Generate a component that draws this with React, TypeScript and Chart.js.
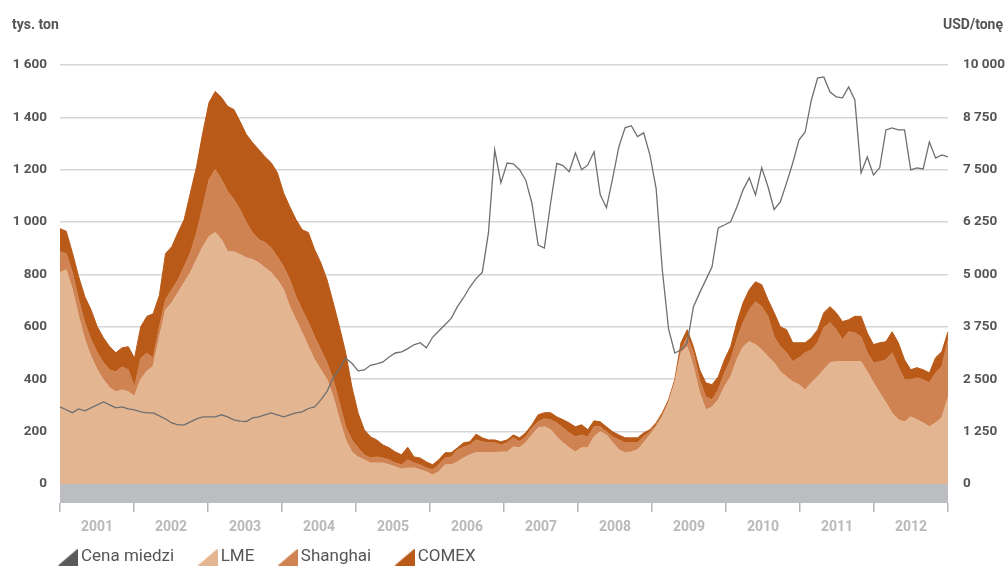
import React, { useEffect, useRef } from "react";
import { Chart, registerables } from "chart.js";

Chart.register(...registerables);

const YEARS = ["2001","2002","2003","2004","2005","2006","2007","2008","2009","2010","2011","2012"];
const MONTH_CODES = ["01","02","03","04","05","06","07","08","09","10","11","12"];
const MONTHS = YEARS.flatMap((y) => MONTH_CODES.map((m) => `${y}-${m}`));

const LEFT_TICKS = [0, 200, 400, 600, 800, 1000, 1200, 1400, 1600];
const RIGHT_TICKS = [0, 1250, 2500, 3750, 5000, 6250, 7500, 8750, 10000];

// tys. ton
const LME = [
  807,818,742,640,551,486,436,398,367,352,359,352,
  335,400,430,450,560,665,692,730,769,807,857,906,
  945,960,933,887,887,876,864,857,845,826,807,780,
  742,677,627,577,524,474,436,398,333,245,168,122,
  103,92,80,80,80,73,65,57,61,61,54,46,
  34,46,73,73,84,99,111,119,119,119,119,122,
  122,141,138,157,187,214,218,207,180,157,138,122,
  138,138,180,199,187,157,130,119,122,130,157,187,
  218,256,310,386,501,524,447,348,283,294,321,371,
  409,474,524,543,532,512,486,463,428,409,390,379,
  359,386,409,436,463,467,467,467,467,467,428,386,
  348,310,271,245,237,256,245,233,218,233,252,330,
];
const SHANGHAI = [
  80,62,65,64,65,65,65,65,69,76,88,84,
  35,80,70,30,40,39,50,50,61,76,103,153,
  218,241,230,230,199,172,134,103,88,96,95,88,
  88,103,88,88,92,88,76,65,65,65,50,46,
  35,19,19,23,19,19,15,16,31,19,19,15,
  20,27,26,30,46,42,38,49,42,38,38,27,
  35,35,23,23,27,23,31,38,53,57,57,58,
  49,42,38,19,12,23,38,38,35,27,23,12,
  8,8,4,4,11,38,54,50,50,27,38,53,
  65,77,92,122,164,165,154,99,96,92,77,103,
  142,126,130,161,153,122,84,114,110,95,73,77,
  119,164,230,202,161,142,160,165,168,191,195,221,
];
const COMEX = [
  88,85,76,88,99,114,99,95,88,73,73,88,
  110,120,140,170,120,176,164,180,180,229,252,283,
  294,298,313,325,344,336,337,344,344,328,325,321,
  282,279,295,306,344,333,333,317,294,290,283,203,
  133,96,81,65,50,46,42,38,48,23,26,23,
  19,19,20,16,8,16,12,22,15,11,11,12,
  11,11,15,15,12,27,23,27,23,31,38,38,
  39,27,23,19,19,19,19,19,19,19,15,8,
  7,8,7,8,27,27,23,38,53,58,50,50,
  50,65,76,77,76,84,64,92,76,88,72,57,
  38,46,50,57,61,65,69,46,63,78,76,69,
  72,69,80,92,76,38,39,38,38,58,58,30,
];
// USD/tonę
const CENA = [
  1840,1770,1700,1790,1745,1815,1885,1955,1885,1815,1840,1790,
  1765,1720,1695,1695,1625,1550,1455,1410,1410,1480,1550,1600,
  1600,1600,1650,1600,1530,1500,1490,1575,1600,1650,1695,1650,
  1600,1650,1695,1720,1800,1840,2005,2210,2530,2750,3000,2880,
  2700,2720,2830,2865,2910,3030,3125,3150,3230,3320,3370,3250,
  3500,3650,3800,3950,4230,4450,4700,4900,5050,6000,7975,7185,
  7660,7640,7500,7250,6700,5700,5630,6700,7650,7600,7450,7900,
  7500,7615,7930,6900,6590,7300,8050,8500,8550,8290,8380,7850,
  7050,5100,3700,3125,3200,3365,4225,4560,4870,5180,6110,6180,
  6255,6610,7020,7305,6900,7550,7100,6550,6730,7185,7660,8210,
  8400,9165,9690,9715,9355,9240,9215,9475,9165,7425,7805,7375,
  7545,8450,8500,8450,8450,7495,7545,7520,8165,7780,7855,7805,
];

const C_PRICE = "#6f6f6f";
const C_LME = "#e4b591";
const C_SH = "#d08352";
const C_CX = "#b95a19";
const C_BAND = "#bcbdc0";
const C_GRID = "#d6d6d6";
const C_TEXT = "#555555";
const C_YEAR = "#b9b9b9";
const FONT = "Roboto, 'DejaVu Sans', sans-serif";

const fmt = (v: number) => String(v).replace(/\B(?=(\d{3})+(?!\d))/g, " ");

function makeIcon(color: string): HTMLCanvasElement {
  const c = document.createElement("canvas");
  c.width = 39;
  c.height = 17;
  const g = c.getContext("2d")!;
  g.fillStyle = color;
  g.beginPath();
  g.moveTo(19, 17);
  g.lineTo(39, 17);
  g.lineTo(39, 0);
  g.closePath();
  g.fill();
  return c;
}

const decor = {
  id: "decor",
  afterLayout(chart: any) {
    if (chart.legend) {
      chart.legend.left = 34.5;
    }
  },
  beforeDatasetsDraw(chart: any) {
    const { ctx, chartArea, scales } = chart;
    const y0 = scales.y.getPixelForValue(0);
    ctx.save();
    ctx.fillStyle = C_BAND;
    ctx.fillRect(chartArea.left, y0, chartArea.right - chartArea.left, chartArea.bottom - y0);
    ctx.restore();
  },
  afterDraw(chart: any) {
    const { ctx } = chart;
    ctx.save();
    ctx.font = `bold 14px ${FONT}`;
    ctx.fillStyle = C_TEXT;
    ctx.textBaseline = "middle";
    ctx.textAlign = "left";
    ctx.fillText("tys. ton", 12, 25);
    ctx.textAlign = "right";
    ctx.fillText("USD/tonę", 1003, 25);
    ctx.restore();
  },
};

export default function App() {
  const ref = useRef<HTMLCanvasElement>(null);

  useEffect(() => {
    if (!ref.current) return;
    const icons = [makeIcon("#5a5a5a"), makeIcon(C_LME), makeIcon(C_SH), makeIcon(C_CX)];
    const area = (label: string, data: number[], color: string, fill: any) => ({
      label,
      data,
      yAxisID: "y",
      xAxisID: "x",
      backgroundColor: color,
      borderColor: color,
      borderWidth: 1,
      pointRadius: 0,
      tension: 0,
      fill,
    });
    const chart = new Chart(ref.current, {
      type: "line",
      data: {
        labels: MONTHS,
        datasets: [
          {
            label: "Cena miedzi",
            data: CENA,
            yAxisID: "y2",
            xAxisID: "x",
            borderColor: C_PRICE,
            backgroundColor: C_PRICE,
            borderWidth: 1.3,
            pointRadius: 0,
            tension: 0,
            fill: false,
          },
          area("LME", LME, C_LME, "origin"),
          area("Shanghai", SHANGHAI, C_SH, "-1"),
          area("COMEX", COMEX, C_CX, "-1"),
        ],
      },
      options: {
        animation: false,
        responsive: false,
        devicePixelRatio: 1,
        layout: { padding: { left: 0, right: 0, top: 65, bottom: -7.5 } },
        plugins: {
          tooltip: { enabled: false },
          legend: {
            position: "bottom",
            align: "start",
            labels: {
              usePointStyle: true,
              pointStyleWidth: 28,
              padding: 10,
              color: C_TEXT,
              font: { family: FONT, size: 17 },
              generateLabels: (ch: any) => {
                const base = (Chart as any).defaults.plugins.legend.labels.generateLabels(ch);
                return base.map((it: any) => ({ ...it, pointStyle: icons[it.datasetIndex], lineWidth: 0 }));
              },
            },
          },
        },
        scales: {
          x: { type: "category", display: false, offset: false },
          xYear: {
            type: "category",
            labels: YEARS,
            position: "bottom",
            offset: true,
            afterFit: (s: any) => { s.height = 35.5; },
            grid: { display: true, offset: true, drawOnChartArea: false, drawTicks: true, tickLength: 9, color: "#b5b5b5", lineWidth: 1.5 },
            border: { display: false },
            ticks: { color: C_YEAR, padding: 7, autoSkip: false, maxRotation: 0, font: { family: FONT, size: 14, weight: "bold" } },
          },
          y: {
            position: "left",
            stacked: true,
            min: -73,
            max: 1600,
            afterBuildTicks: (s: any) => { s.ticks = LEFT_TICKS.map((v) => ({ value: v })); },
            afterFit: (s: any) => { s.width = 60; },
            grid: { color: C_GRID, lineWidth: 1.5, drawTicks: false },
            border: { display: false },
            ticks: { padding: 13, color: C_TEXT, font: { family: FONT, size: 13.5, weight: "bold" }, callback: (v: any) => fmt(Number(v)) },
          },
          y2: {
            position: "right",
            min: -456.25,
            max: 10000,
            afterBuildTicks: (s: any) => { s.ticks = RIGHT_TICKS.map((v) => ({ value: v })); },
            afterFit: (s: any) => { s.width = 59; },
            grid: { display: false, drawTicks: false },
            border: { display: false },
            ticks: { padding: 15, color: C_TEXT, font: { family: FONT, size: 13.5, weight: "bold" }, callback: (v: any) => fmt(Number(v)) },
          },
        },
      } as any,
      plugins: [decor],
    });
    return () => chart.destroy();
  }, []);

  return (
    <div style={{ position: "absolute", left: 0, top: 0, width: 1007, height: 568, background: "#fff" }}>
      <canvas ref={ref} width={1007} height={568} style={{ display: "block" }} />
    </div>
  );
}
